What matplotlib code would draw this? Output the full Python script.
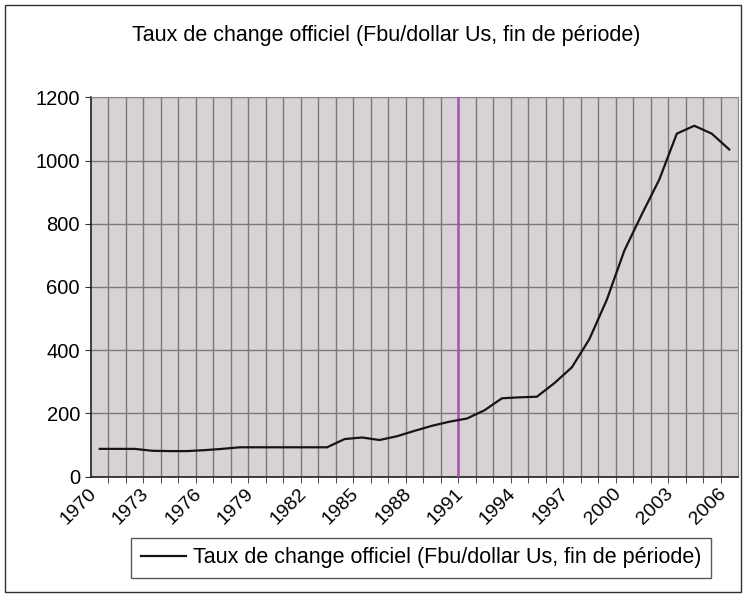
import numpy as np
import matplotlib.pyplot as plt
from matplotlib.patches import Rectangle

plt.rcParams['font.family'] = ['Liberation Sans', 'DejaVu Sans']

# data
years = list(range(1970, 2007))
taux = [88, 88, 88, 82, 81, 81, 84, 88, 93, 93,
        93, 93, 93, 93, 119, 124, 116, 128, 145, 161,
        174, 184, 210, 248, 251, 253, 296, 346, 435, 560,
        715, 830, 940, 1085, 1110, 1085, 1035]
label_years = years[::3]
titre = "Taux de change officiel (Fbu/dollar Us, fin de période)"

fig = plt.figure(figsize=(7.46, 5.99), dpi=100)
ax = fig.add_axes([91/746, 1 - 476.7/599, (738 - 91)/746, (476.7 - 97.3)/599])
ax.set_facecolor('#d8d1d5')

x = np.arange(len(years))
ax.plot(x, taux, color='#151515', lw=1.6, label=titre, zorder=4)

# purple mark left on the scan
ax.axvline(20.5, color='#b050b8', lw=2, alpha=0.85, zorder=3)

ax.set_xlim(-0.5, len(years) - 0.5)
ax.set_ylim(0, 1200)
ax.set_yticks(range(0, 1201, 200))

# gridlines at category boundaries
ax.set_xticks(np.arange(0.5, len(years) - 0.5), minor=True)
ax.set_xticks([years.index(y) for y in label_years])
ax.set_xticklabels([str(y) for y in label_years], rotation=45, ha='right',
                   va='top', fontsize=14)
ax.tick_params(axis='x', which='major', length=0, pad=6)
ax.tick_params(axis='x', which='minor', length=4, direction='out', color='#303030')
ax.tick_params(axis='y', length=4, direction='out', labelsize=14.5, pad=4, color='#303030')
ax.grid(True, which='minor', axis='x', color='#7a7a7a', lw=1)
ax.grid(True, which='major', axis='y', color='#7a7a7a', lw=1)
ax.set_axisbelow(True)

for side in ['top', 'right']:
    ax.spines[side].set_color('#8a8a8a')
for side in ['left', 'bottom']:
    ax.spines[side].set_color('#202020')
    ax.spines[side].set_linewidth(1.2)

fig.text(386/746, 1 - 35/599, titre, ha='center', va='center', fontsize=15.5)

leg = fig.legend(loc='center', bbox_to_anchor=(421/746, 1 - 558/599),
                 fontsize=15.5, frameon=True, fancybox=False, shadow=False,
                 handlelength=2.1, handletextpad=0.3, borderpad=0.45)
leg.get_frame().set_edgecolor('#303030')
leg.get_frame().set_linewidth(1)

fig.patches.append(Rectangle((5/746, 7/599), 736/746, 587/599, transform=fig.transFigure,
                             fill=False, edgecolor='#303030', lw=1))

fig.savefig('out.png', dpi=100)
